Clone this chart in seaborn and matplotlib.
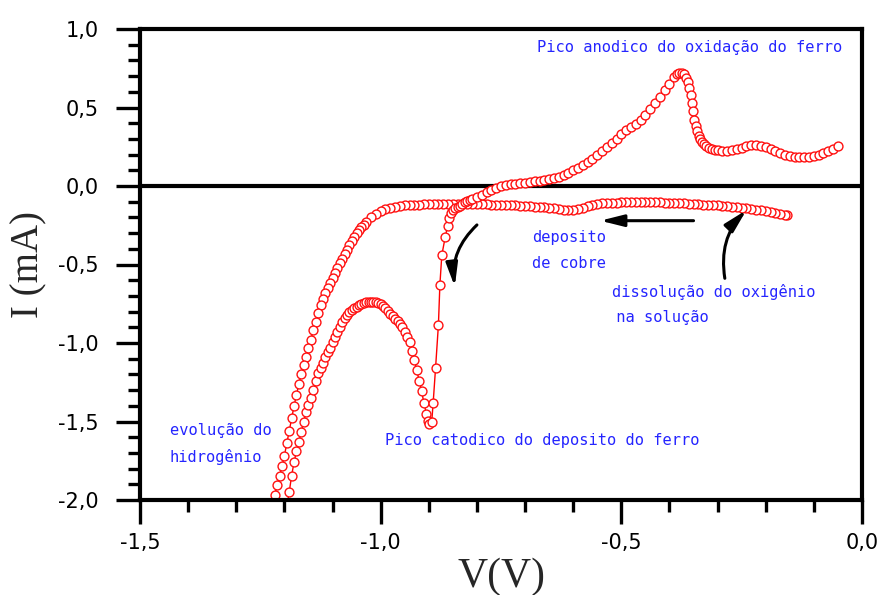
import matplotlib
matplotlib.use("Agg")
import matplotlib.pyplot as plt
import numpy as np
import pandas as pd
import seaborn as sns
from matplotlib.ticker import MultipleLocator, FuncFormatter

# ---- data (cathodic sweep, then return sweep) ----
V_ida = [-0.155, -0.16, -0.17, -0.18, -0.19, -0.20, -0.21, -0.22, -0.23, -0.24,
         -0.25, -0.26, -0.27, -0.28, -0.29, -0.30, -0.31, -0.32, -0.33, -0.34,
         -0.35, -0.36, -0.37, -0.38, -0.39, -0.40, -0.41, -0.42, -0.43, -0.44,
         -0.45, -0.46, -0.47, -0.48, -0.49, -0.50, -0.51, -0.52, -0.53, -0.54,
         -0.55, -0.56, -0.57, -0.58, -0.59, -0.60, -0.61, -0.62, -0.63, -0.64,
         -0.65, -0.66, -0.67, -0.68, -0.69, -0.70, -0.71, -0.72, -0.73, -0.74,
         -0.75, -0.76, -0.77, -0.78, -0.79, -0.80, -0.81, -0.82, -0.83, -0.84,
         -0.85, -0.86, -0.87, -0.88, -0.89, -0.90, -0.91, -0.92, -0.93, -0.94,
         -0.95, -0.96, -0.97, -0.98, -0.99, -1.00, -1.01, -1.02, -1.03, -1.035,
         -1.04, -1.045, -1.05, -1.055, -1.06, -1.065, -1.07, -1.075, -1.08, -1.085,
         -1.09, -1.095, -1.10, -1.105, -1.110, -1.115, -1.120, -1.125, -1.130, -1.135,
         -1.140, -1.145, -1.150, -1.155, -1.160, -1.165, -1.170, -1.175, -1.180, -1.185,
         -1.190, -1.195, -1.200, -1.205, -1.210, -1.215, -1.220, -1.225]
I_ida = [-0.185, -0.182, -0.176, -0.170, -0.165, -0.160, -0.155, -0.150, -0.146, -0.142,
         -0.138, -0.134, -0.131, -0.128, -0.126, -0.124, -0.122, -0.120, -0.118, -0.116,
         -0.114, -0.112, -0.110, -0.109, -0.108, -0.107, -0.106, -0.105, -0.104, -0.103,
         -0.103, -0.103, -0.103, -0.104, -0.104, -0.105, -0.106, -0.107, -0.108, -0.110,
         -0.114, -0.120, -0.128, -0.137, -0.145, -0.150, -0.152, -0.150, -0.146, -0.142,
         -0.139, -0.136, -0.134, -0.131, -0.129, -0.127, -0.125, -0.123, -0.122, -0.121,
         -0.120, -0.119, -0.118, -0.117, -0.116, -0.116, -0.115, -0.115, -0.115, -0.115,
         -0.115, -0.115, -0.115, -0.115, -0.116, -0.116, -0.117, -0.118, -0.119, -0.121,
         -0.124, -0.127, -0.131, -0.138, -0.148, -0.161, -0.178, -0.200, -0.230, -0.246,
         -0.263, -0.281, -0.301, -0.325, -0.350, -0.377, -0.405, -0.433, -0.462, -0.492,
         -0.522, -0.553, -0.585, -0.618, -0.650, -0.680, -0.718, -0.760, -0.810, -0.865,
         -0.920, -0.978, -1.035, -1.090, -1.140, -1.195, -1.262, -1.330, -1.402, -1.480,
         -1.560, -1.640, -1.718, -1.785, -1.848, -1.905, -1.965, -2.025]

V_volta = [-1.195, -1.190, -1.185, -1.180, -1.175, -1.170, -1.165, -1.160, -1.155, -1.150,
           -1.145, -1.140, -1.135, -1.130, -1.125, -1.120, -1.115, -1.110, -1.105, -1.100,
           -1.095, -1.090, -1.085, -1.080, -1.075, -1.070, -1.065, -1.060, -1.055, -1.050,
           -1.045, -1.040, -1.035, -1.030, -1.025, -1.020, -1.015, -1.010, -1.005, -1.000,
           -0.995, -0.990, -0.985, -0.980, -0.975, -0.970, -0.965, -0.960, -0.955, -0.950,
           -0.945, -0.940, -0.935, -0.930, -0.925, -0.920, -0.915, -0.910, -0.905, -0.902,
           -0.899, -0.894, -0.891, -0.886, -0.880, -0.877, -0.873, -0.866, -0.861, -0.857,
           -0.854, -0.850, -0.845, -0.840, -0.835, -0.830, -0.825, -0.820, -0.815, -0.810,
           -0.80, -0.79, -0.78, -0.77, -0.76, -0.75, -0.74, -0.73, -0.72, -0.71,
           -0.70, -0.69, -0.68, -0.67, -0.66, -0.65, -0.64, -0.63, -0.62, -0.61,
           -0.60, -0.59, -0.58, -0.57, -0.56, -0.55, -0.54, -0.53, -0.52, -0.51,
           -0.50, -0.49, -0.48, -0.47, -0.46, -0.45, -0.44, -0.43, -0.42, -0.41,
           -0.40, -0.39, -0.385, -0.380, -0.375, -0.370, -0.365, -0.362, -0.359, -0.356,
           -0.354, -0.352, -0.349, -0.345, -0.342, -0.339, -0.336, -0.332, -0.328, -0.324,
           -0.318, -0.312, -0.305, -0.30, -0.29, -0.28, -0.27, -0.26, -0.25, -0.24,
           -0.23, -0.22, -0.21, -0.20, -0.19, -0.18, -0.17, -0.16, -0.15, -0.14,
           -0.13, -0.12, -0.11, -0.10, -0.09, -0.08, -0.07, -0.06, -0.05]
I_volta = [-2.040, -1.950, -1.845, -1.760, -1.690, -1.630, -1.565, -1.500, -1.440, -1.395,
           -1.350, -1.300, -1.245, -1.193, -1.160, -1.125, -1.092, -1.060, -1.030, -0.995,
           -0.962, -0.930, -0.898, -0.866, -0.842, -0.822, -0.805, -0.790, -0.778, -0.768,
           -0.759, -0.752, -0.746, -0.741, -0.738, -0.736, -0.737, -0.740, -0.745, -0.752,
           -0.765, -0.780, -0.797, -0.814, -0.830, -0.845, -0.860, -0.877, -0.900, -0.930,
           -0.960, -0.992, -1.050, -1.110, -1.175, -1.240, -1.305, -1.385, -1.450, -1.495,
           -1.515, -1.505, -1.384, -1.161, -0.883, -0.631, -0.441, -0.327, -0.255, -0.202,
           -0.170, -0.150, -0.140, -0.133, -0.125, -0.115, -0.105, -0.097, -0.089, -0.081,
           -0.068, -0.055, -0.040, -0.025, -0.012, -0.003, 0.005, 0.010, 0.015, 0.019,
           0.022, 0.025, 0.029, 0.033, 0.038, 0.043, 0.050, 0.058, 0.070, 0.085,
           0.100, 0.115, 0.132, 0.150, 0.172, 0.195, 0.220, 0.248, 0.275, 0.300,
           0.330, 0.357, 0.378, 0.398, 0.420, 0.452, 0.488, 0.528, 0.570, 0.610,
           0.652, 0.695, 0.712, 0.720, 0.722, 0.712, 0.690, 0.660, 0.625, 0.580,
           0.530, 0.480, 0.420, 0.380, 0.350, 0.320, 0.300, 0.282, 0.267, 0.255,
           0.245, 0.238, 0.232, 0.228, 0.225, 0.226, 0.230, 0.236, 0.245, 0.254,
           0.260, 0.260, 0.255, 0.247, 0.238, 0.225, 0.212, 0.200, 0.192, 0.186,
           0.183, 0.183, 0.186, 0.190, 0.198, 0.210, 0.223, 0.238, 0.255]

x_ticks = [-1.5, -1.0, -0.5, 0.0]
y_ticks = [-2.0, -1.5, -1.0, -0.5, 0.0, 0.5, 1.0]

# ---- style ----
sns.set_theme(style="ticks")
plt.rcParams['font.family'] = ['DejaVu Sans']

df = pd.concat([
    pd.DataFrame({'V': V_ida, 'I': I_ida, 'ramo': 'ida'}),
    pd.DataFrame({'V': V_volta, 'I': I_volta, 'ramo': 'volta'}),
], ignore_index=True)

fig = plt.figure(figsize=(8.82, 5.95), dpi=100)
ax = fig.add_axes([140 / 882, 95 / 595, 722 / 882, 471 / 595])

ax.axhline(0, color='black', lw=3, zorder=1)
sns.lineplot(data=df, x='V', y='I', units='ramo', estimator=None, sort=False,
             color='red', lw=1.0, marker='o', markersize=6.4,
             markerfacecolor='white', markeredgecolor='#ff1010', markeredgewidth=1.0,
             ax=ax, zorder=2)

ax.set_xlim(-1.5, 0.0)
ax.set_ylim(-2.0, 1.0)
ax.set_xticks(x_ticks)
ax.set_yticks(y_ticks)
ax.xaxis.set_minor_locator(MultipleLocator(0.1))
ax.yaxis.set_minor_locator(MultipleLocator(0.1))
fmt = FuncFormatter(lambda v, p: ("%.1f" % v).replace('.', ',').replace('-0,0', '0,0'))
ax.xaxis.set_major_formatter(fmt)
ax.yaxis.set_major_formatter(fmt)
ax.tick_params(which='major', direction='out', length=17, width=2.4,
               labelsize=15, color='black', labelcolor='black')
ax.tick_params(axis='y', which='major', pad=13)
ax.tick_params(axis='x', which='major', pad=7)
ax.tick_params(which='minor', direction='out', length=8.5, width=2.4, color='black')
for s in ax.spines.values():
    s.set_linewidth(3)
    s.set_color('black')
    s.set_visible(True)

ax.set_xlabel("V(V)", family='Liberation Serif', fontsize=30, va='center')
ax.set_ylabel("I (mA)", family='Liberation Serif', fontsize=28, va='center')
ax.xaxis.set_label_coords(0.5, -0.163)
ax.yaxis.set_label_coords(-0.154, 0.5)

blue = '#2525ff'
mono = 'DejaVu Sans Mono'
tkw = dict(color=blue, family=mono, fontsize=11.1, ha='left', va='center')
ax.text(-0.675, 0.879, "Pico anodico do oxidação do ferro", **tkw)
ax.text(-0.686, -0.325, "deposito", **tkw)
ax.text(-0.686, -0.492, "de cobre", **tkw)
ax.text(-0.520, -0.673, "dissolução do oxigênio", **tkw)
ax.text(-0.530, -0.839, " na solução", **tkw)
ax.text(-0.991, -1.624, "Pico catodico do deposito do ferro", **tkw)
ax.text(-1.438, -1.560, "evolução do", **tkw)
ax.text(-1.438, -1.726, "hidrogênio", **tkw)

akw = dict(arrowstyle='-|>,head_length=1.4,head_width=0.35', color='black',
           lw=2.2, shrinkA=0, shrinkB=0, mutation_scale=10)
ax.annotate("", xy=(-0.846, -0.641), xytext=(-0.800, -0.248),
            arrowprops=dict(connectionstyle='arc3,rad=0.25', **akw))
ax.annotate("", xy=(-0.544, -0.221), xytext=(-0.350, -0.221),
            arrowprops=dict(connectionstyle='arc3,rad=0', **akw))
ax.annotate("", xy=(-0.240, -0.153), xytext=(-0.285, -0.588),
            arrowprops=dict(connectionstyle='arc3,rad=-0.25', **akw))

fig.savefig("out.png", dpi=100)
